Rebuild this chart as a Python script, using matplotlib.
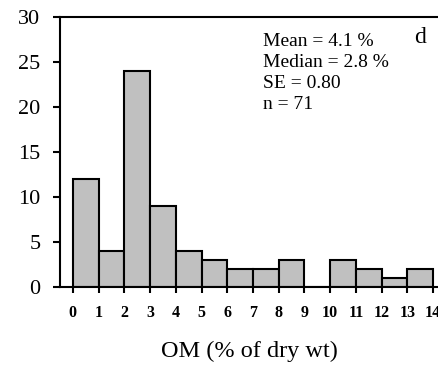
import matplotlib
matplotlib.use("Agg")
import matplotlib.pyplot as plt
import numpy as np

# Histogram of organic matter content (1 % bins)
bin_edges = list(range(0, 15))          # 0..14
counts = [12, 4, 24, 9, 4, 3, 2, 2, 3, 0, 3, 2, 1, 2]
x_ticks = list(range(0, 15))
y_ticks = [0, 5, 10, 15, 20, 25, 30]
stats_lines = ["Mean = 4.1 %", "Median = 2.8 %", "SE = 0.80", "n = 71"]
panel_label = "d"
x_label = "OM (% of dry wt)"

plt.rcParams["font.family"] = ["Liberation Serif", "DejaVu Serif"]

W, H = 439, 367
fig = plt.figure(figsize=(W / 100, H / 100), dpi=100)
ax = fig.add_axes([60 / W, (H - 287) / H, (W - 60) / W, 270 / H])

lefts = np.array(bin_edges[:-1])
ax.bar(lefts, counts, width=1.0, align="edge", color="#c0c0c0",
       edgecolor="black", linewidth=1.5, zorder=2)

ax.set_xlim(-0.5, 14.23)
ax.set_ylim(0, 30)

for side in ("left", "bottom", "top"):
    ax.spines[side].set_linewidth(1.5)
ax.spines["right"].set_visible(False)

ax.set_xticks(x_ticks)
ax.set_xticklabels([str(v) for v in x_ticks], fontsize=11.5, fontweight="bold")
ax.set_yticks(y_ticks)
ax.set_yticklabels([str(v) for v in y_ticks], fontsize=16)
ax.tick_params(axis="x", direction="out", length=4, width=1.5, pad=9)
ax.tick_params(axis="y", direction="out", length=5, width=1.5, pad=9)

ax.set_xlabel(x_label, fontsize=17.5, labelpad=14)

ax.text(263 / W, 1 - 33 / H, "\n".join(stats_lines), transform=fig.transFigure,
        fontsize=14, va="top", ha="left", linespacing=1.32)
ax.text(420 / W, 1 - 27 / H, panel_label, transform=fig.transFigure,
        fontsize=17, va="top", ha="center")

fig.savefig("out.png", dpi=100)
